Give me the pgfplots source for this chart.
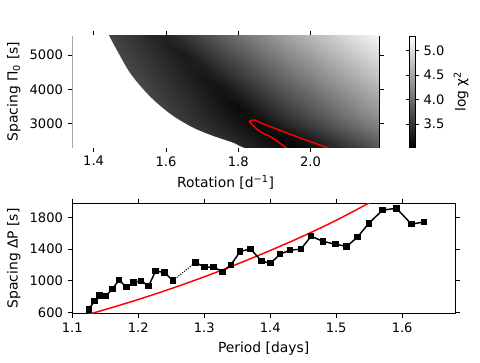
\documentclass[border=0pt]{standalone}
\usepackage{fontspec}
\setmainfont{DejaVu Sans}
\usepackage{pgfplots}
\pgfplotsset{compat=1.18}

\begin{document}
\begin{tikzpicture}
\path[use as bounding box] (0,0) rectangle (360pt,271.5pt);
\pgfplotsset{
  every axis/.append style={
    scale only axis,
    tick align=outside,
    major tick length=3.5pt,
    /pgf/number format/assume math mode=true,
    tick label style={font=\fontsize{9.8}{11}\selectfont},
    label style={font=\fontsize{10.4}{12}\selectfont},
    axis line style={line width=0.6pt},
    every tick/.style={black, line width=0.6pt},
  },
}

% top panel: log chi^2 map over rotation and spacing
\begin{axis}[
  at={(54.2pt,161.25pt)}, anchor=south west,
  width=230pt, height=83.25pt,
  xmin=1.341, xmax=2.189, ymin=2321, ymax=5554,
  xtick={1.4,1.6,1.8,2.0}, ytick={3000,4000,5000},
  xticklabel style={/pgf/number format/.cd, fixed, fixed zerofill, precision=1},
  yticklabel style={/pgf/number format/1000 sep={}},
  xlabel={Rotation [d\textsuperscript{−1}]},
  ylabel={Spacing Π\textsubscript{0} [s]},
  colormap/blackwhite,
  point meta min=3.03, point meta max=5.30,
  colorbar,
  colorbar style={
    at={(parent axis.north east)}, anchor=north west, xshift=14.5pt,
    width=4.5pt,
    ytick={3.5,4.0,4.5,5.0},
    yticklabel style={/pgf/number format/.cd, fixed, fixed zerofill, precision=1},
    major tick length=2.5pt,
    ylabel={log χ\textsuperscript{2}},
  },
]
\addplot[surf, shader=interp, mesh/cols=18, point meta=explicit]
  table[x=rot, y=pi, meta=chi, row sep=\\] {
rot pi chi\\
1.35 2300 4.44\\ 1.40 2300 4.32\\ 1.45 2300 4.21\\ 1.50 2300 4.10\\ 1.55 2300 3.98\\ 1.60 2300 3.87\\ 1.65 2300 3.76\\ 1.70 2300 3.64\\ 1.75 2300 3.53\\ 1.80 2300 3.42\\ 1.85 2300 3.30\\ 1.90 2300 3.19\\ 1.95 2300 3.08\\ 2.00 2300 3.14\\ 2.05 2300 3.32\\ 2.10 2300 3.49\\ 2.15 2300 3.66\\ 2.20 2300 3.83\\
1.35 2600 4.35\\ 1.40 2600 4.24\\ 1.45 2600 4.12\\ 1.50 2600 4.01\\ 1.55 2600 3.89\\ 1.60 2600 3.78\\ 1.65 2600 3.67\\ 1.70 2600 3.55\\ 1.75 2600 3.44\\ 1.80 2600 3.33\\ 1.85 2600 3.21\\ 1.90 2600 3.10\\ 1.95 2600 3.16\\ 2.00 2600 3.34\\ 2.05 2600 3.52\\ 2.10 2600 3.69\\ 2.15 2600 3.85\\ 2.20 2600 4.02\\
1.35 2900 4.26\\ 1.40 2900 4.15\\ 1.45 2900 4.03\\ 1.50 2900 3.92\\ 1.55 2900 3.81\\ 1.60 2900 3.69\\ 1.65 2900 3.58\\ 1.70 2900 3.47\\ 1.75 2900 3.35\\ 1.80 2900 3.24\\ 1.85 2900 3.13\\ 1.90 2900 3.19\\ 1.95 2900 3.37\\ 2.00 2900 3.54\\ 2.05 2900 3.71\\ 2.10 2900 3.88\\ 2.15 2900 4.04\\ 2.20 2900 4.20\\
1.35 3200 4.19\\ 1.40 3200 4.08\\ 1.45 3200 3.97\\ 1.50 3200 3.85\\ 1.55 3200 3.74\\ 1.60 3200 3.63\\ 1.65 3200 3.51\\ 1.70 3200 3.40\\ 1.75 3200 3.29\\ 1.80 3200 3.17\\ 1.85 3200 3.18\\ 1.90 3200 3.35\\ 1.95 3200 3.53\\ 2.00 3200 3.70\\ 2.05 3200 3.87\\ 2.10 3200 4.04\\ 2.15 3200 4.20\\ 2.20 3200 4.36\\
1.35 3500 4.15\\ 1.40 3500 4.04\\ 1.45 3500 3.92\\ 1.50 3500 3.81\\ 1.55 3500 3.70\\ 1.60 3500 3.58\\ 1.65 3500 3.47\\ 1.70 3500 3.36\\ 1.75 3500 3.24\\ 1.80 3500 3.13\\ 1.85 3500 3.31\\ 1.90 3500 3.49\\ 1.95 3500 3.66\\ 2.00 3500 3.83\\ 2.05 3500 3.99\\ 2.10 3500 4.16\\ 2.15 3500 4.32\\ 2.20 3500 4.47\\
1.35 3800 4.11\\ 1.40 3800 3.99\\ 1.45 3800 3.88\\ 1.50 3800 3.77\\ 1.55 3800 3.65\\ 1.60 3800 3.54\\ 1.65 3800 3.43\\ 1.70 3800 3.31\\ 1.75 3800 3.20\\ 1.80 3800 3.26\\ 1.85 3800 3.44\\ 1.90 3800 3.62\\ 1.95 3800 3.79\\ 2.00 3800 3.95\\ 2.05 3800 4.12\\ 2.10 3800 4.28\\ 2.15 3800 4.44\\ 2.20 3800 4.59\\
1.35 4100 4.06\\ 1.40 4100 3.95\\ 1.45 4100 3.84\\ 1.50 4100 3.72\\ 1.55 4100 3.61\\ 1.60 4100 3.50\\ 1.65 4100 3.38\\ 1.70 4100 3.27\\ 1.75 4100 3.21\\ 1.80 4100 3.39\\ 1.85 4100 3.57\\ 1.90 4100 3.74\\ 1.95 4100 3.91\\ 2.00 4100 4.08\\ 2.05 4100 4.24\\ 2.10 4100 4.40\\ 2.15 4100 4.55\\ 2.20 4100 4.71\\
1.35 4400 4.02\\ 1.40 4400 3.91\\ 1.45 4400 3.79\\ 1.50 4400 3.68\\ 1.55 4400 3.57\\ 1.60 4400 3.45\\ 1.65 4400 3.34\\ 1.70 4400 3.23\\ 1.75 4400 3.35\\ 1.80 4400 3.52\\ 1.85 4400 3.70\\ 1.90 4400 3.87\\ 1.95 4400 4.04\\ 2.00 4400 4.20\\ 2.05 4400 4.36\\ 2.10 4400 4.51\\ 2.15 4400 4.67\\ 2.20 4400 4.82\\
1.35 4700 3.98\\ 1.40 4700 3.86\\ 1.45 4700 3.75\\ 1.50 4700 3.64\\ 1.55 4700 3.52\\ 1.60 4700 3.41\\ 1.65 4700 3.30\\ 1.70 4700 3.30\\ 1.75 4700 3.48\\ 1.80 4700 3.65\\ 1.85 4700 3.82\\ 1.90 4700 3.99\\ 1.95 4700 4.16\\ 2.00 4700 4.32\\ 2.05 4700 4.48\\ 2.10 4700 4.63\\ 2.15 4700 4.78\\ 2.20 4700 4.93\\
1.35 5000 3.93\\ 1.40 5000 3.82\\ 1.45 5000 3.71\\ 1.50 5000 3.59\\ 1.55 5000 3.48\\ 1.60 5000 3.37\\ 1.65 5000 3.25\\ 1.70 5000 3.43\\ 1.75 5000 3.61\\ 1.80 5000 3.78\\ 1.85 5000 3.95\\ 1.90 5000 4.12\\ 1.95 5000 4.28\\ 2.00 5000 4.44\\ 2.05 5000 4.60\\ 2.10 5000 4.75\\ 2.15 5000 4.90\\ 2.20 5000 5.04\\
1.35 5300 3.89\\ 1.40 5300 3.78\\ 1.45 5300 3.66\\ 1.50 5300 3.55\\ 1.55 5300 3.44\\ 1.60 5300 3.32\\ 1.65 5300 3.39\\ 1.70 5300 3.56\\ 1.75 5300 3.74\\ 1.80 5300 3.91\\ 1.85 5300 4.08\\ 1.90 5300 4.24\\ 1.95 5300 4.40\\ 2.00 5300 4.56\\ 2.05 5300 4.71\\ 2.10 5300 4.86\\ 2.15 5300 5.01\\ 2.20 5300 5.15\\
1.35 5600 3.85\\ 1.40 5600 3.73\\ 1.45 5600 3.62\\ 1.50 5600 3.51\\ 1.55 5600 3.39\\ 1.60 5600 3.34\\ 1.65 5600 3.52\\ 1.70 5600 3.69\\ 1.75 5600 3.87\\ 1.80 5600 4.04\\ 1.85 5600 4.20\\ 1.90 5600 4.36\\ 1.95 5600 4.52\\ 2.00 5600 4.68\\ 2.05 5600 4.83\\ 2.10 5600 4.98\\ 2.15 5600 5.12\\ 2.20 5600 5.26\\
};
% region without a solution
\addplot[fill=white, draw=none, smooth] coordinates {
  (1.20,5900) (1.40,5900) (1.432,5800) (1.443,5554) (1.473,4971) (1.500,4484)
  (1.537,4000) (1.574,3610) (1.620,3222) (1.675,2881) (1.731,2639)
  (1.786,2443) (1.804,2347) (1.830,2240) (1.87,2080)
  (1.87,1950) (1.20,1950)
} -- cycle;
% confidence contour
\addplot[red, line width=1.1pt, smooth] coordinates {
  (1.935,2290) (1.929,2327) (1.892,2601) (1.864,2747) (1.845,2900)
  (1.835,3009) (1.831,3065) (1.836,3097) (1.845,3105) (1.870,2990)
  (1.901,2865) (1.966,2605) (2.039,2327) (2.050,2285)
};
\end{axis}

% bottom panel: period spacing pattern
\begin{axis}[
  at={(54.2pt,36.5pt)}, anchor=south west,
  width=287pt, height=82.5pt,
  xmin=1.1, xmax=1.68, ymin=588, ymax=1980,
  xtick={1.1,1.2,1.3,1.4,1.5,1.6}, ytick={600,1000,1400,1800},
  xticklabel style={/pgf/number format/.cd, fixed, fixed zerofill, precision=1},
  yticklabel style={/pgf/number format/1000 sep={}},
  xlabel={Period [days]},
  ylabel={Spacing ΔP [s]},
]
\addplot[red, line width=1.1pt, smooth] coordinates {
  (1.12,565) (1.15,636) (1.20,763) (1.25,901) (1.30,1050) (1.35,1211)
  (1.40,1383) (1.45,1566) (1.50,1765) (1.55,1985) (1.57,2080)
};
\addplot[black, line width=1.1pt, mark=square*, mark size=1.9pt] coordinates {
  (1.1253,638) (1.1333,743) (1.1409,815) (1.1510,806) (1.1606,895)
  (1.1707,1008) (1.1823,920) (1.1929,975) (1.2045,1000) (1.2157,933)
  (1.2263,1122) (1.2394,1105) (1.2525,1004)
};
\addplot[black, line width=0.8pt, densely dotted] coordinates {
  (1.2525,1004) (1.2869,1232)
};
\addplot[black, line width=1.1pt, mark=square*, mark size=1.9pt] coordinates {
  (1.2869,1232) (1.3005,1173) (1.3141,1173) (1.3278,1114) (1.3404,1202)
  (1.3545,1370) (1.3702,1404) (1.3869,1248) (1.4005,1223) (1.4152,1337)
  (1.4298,1387) (1.4465,1400) (1.4621,1564) (1.4803,1497) (1.4990,1463)
  (1.5157,1434) (1.5323,1552) (1.5495,1728) (1.5702,1893) (1.5914,1918)
  (1.6141,1716) (1.6333,1745)
};
\end{axis}
\end{tikzpicture}
\end{document}
